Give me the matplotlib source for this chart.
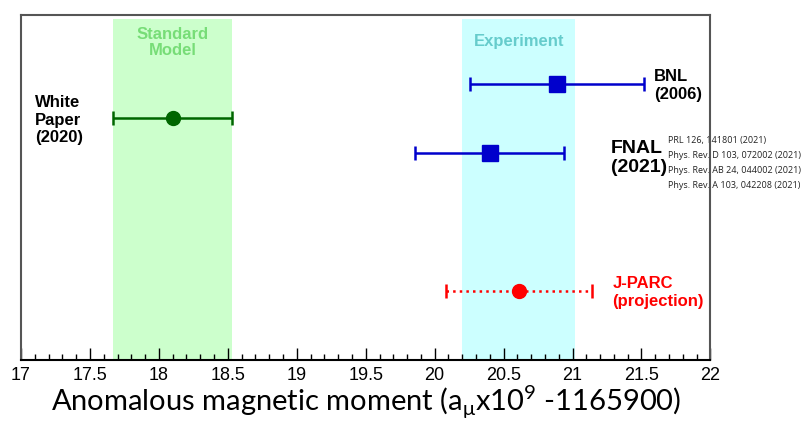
import matplotlib.pyplot as plt
from matplotlib.ticker import MultipleLocator

# values in units of a_mu x 1e9 - 1165900
sm_value, sm_err = 18.10, 0.43
exp_value, exp_err = 20.61, 0.41

names = ["BNL", "White Paper", "FNAL", "J-PARC"]
values = [20.89, 18.10, 20.40, 20.61]
errors = [0.63, 0.43, 0.54, 0.53]
rows = [8, 7, 6, 2]

refs = ["PRL 126, 141801 (2021)",
        "Phys. Rev. D 103, 072002 (2021)",
        "Phys. Rev. AB 24, 044002 (2021)",
        "Phys. Rev. A 103, 042208 (2021)"]

fig = plt.figure(figsize=(8.1, 4.22), dpi=100)
ax = fig.add_axes([0.026, 0.147, 0.851, 0.818])
ax.set_xlim(17, 22)
ax.set_ylim(0, 10)

# bands
ax.fill_between([sm_value - sm_err, sm_value + sm_err], 0, 9.88, color='#ccffcc', lw=0, zorder=0)
ax.fill_between([exp_value - exp_err, exp_value + exp_err], 0, 9.88, color='#ccffff', lw=0, zorder=0)

bold = dict(family='Liberation Sans', fontweight='bold')
ax.text(18.1, 9.65, "Standard\nModel", color='#77dd77', fontsize=12, ha='center', va='top',
        linespacing=1.1, **bold)
ax.text(20.61, 9.45, "Experiment", color='#66cccc', fontsize=12, ha='center', va='top', **bold)

# measurements
ax.errorbar(values[0], rows[0], xerr=errors[0], fmt='s', color='#0000cc', ms=11, lw=1.8,
            capsize=5, capthick=1.8)
ax.errorbar(values[1], rows[1], xerr=errors[1], fmt='o', color='#006600', ms=10, lw=1.8,
            capsize=5, capthick=1.8)
ax.errorbar(values[2], rows[2], xerr=errors[2], fmt='s', color='#0000cc', ms=11, lw=1.8,
            capsize=5, capthick=1.8)
eb = ax.errorbar(values[3], rows[3], xerr=errors[3], fmt='o', color='#ff0000', ms=10, lw=1.8,
                 capsize=5, capthick=1.8)
for ln in eb[2]:
    ln.set_linestyle(':')
for cap in eb[1]:
    cap.set_linestyle(':')

# labels
ax.text(17.1, 6.95, "White\nPaper\n(2020)", fontsize=12, ha='left', va='center', linespacing=1.2, **bold)
ax.text(21.59, 7.95, "BNL\n(2006)", fontsize=12, ha='left', va='center', linespacing=1.2, **bold)
ax.text(21.28, 5.85, "FNAL\n(2021)", fontsize=14, ha='left', va='center', linespacing=1.1, **bold)
for i, r in enumerate(refs):
    ax.text(21.69, 6.35 - i * 0.43, r, fontsize=6.5, ha='left', va='center', color='#222222',
            family='Open Sans', clip_on=False, zorder=1)
ax.text(21.29, 1.95, "J-PARC\n(projection)", color='#ff0000', fontsize=12, ha='left', va='center',
        linespacing=1.2, **bold)

# axes styling
for s in ax.spines.values():
    s.set_color('#555555')
    s.set_linewidth(1.5)
    s.set_zorder(5)
ax.spines['bottom'].set_color('black')
ax.set_yticks([])
ax.xaxis.set_major_locator(MultipleLocator(0.5))
ax.xaxis.set_minor_locator(MultipleLocator(0.1))
ax.tick_params(axis='x', which='major', direction='in', length=9, width=1, labelsize=13, pad=5)
ax.tick_params(axis='x', which='minor', direction='in', length=4.5, width=1)
ax.set_xticks(ax.get_xticks())
ax.set_xticklabels([f"{v:g}" for v in ax.get_xticks()], family='Liberation Sans')
ax.set_xlim(17, 22)
ax.set_xlabel("Anomalous magnetic moment (a$_\\mathregular{\\mu}$x10$^\\mathregular{9}$ -1165900)",
              fontsize=21, family='Lato', labelpad=0)

fig.savefig('out.png', dpi=100)
